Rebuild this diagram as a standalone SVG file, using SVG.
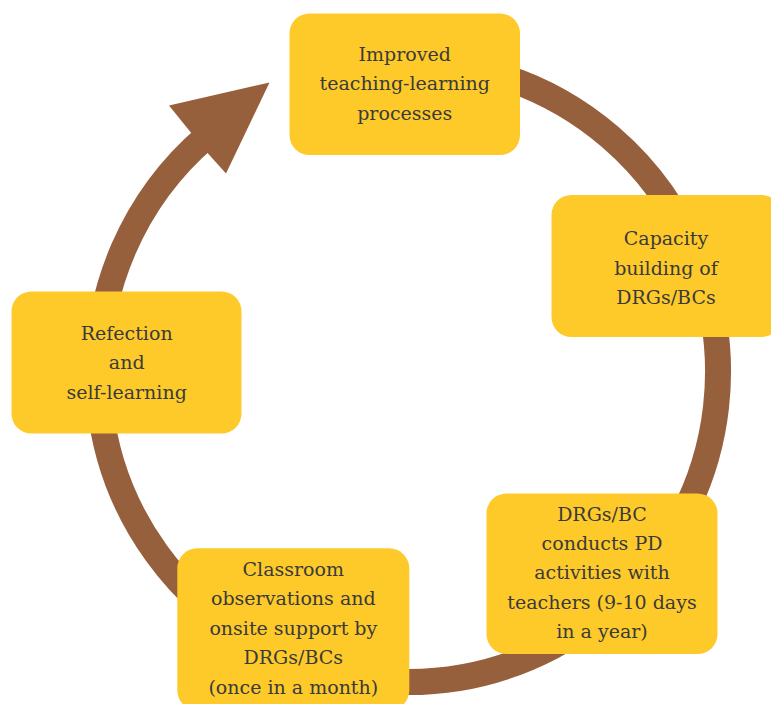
<svg xmlns="http://www.w3.org/2000/svg" width="771" height="704" viewBox="0 0 771 704">
<style>
.ring{fill:none;stroke:#97603D;stroke-width:26}
.head{fill:#97603D}
.box{fill:#FECA29}
.lbl{font-family:"DejaVu Serif","Liberation Serif",serif;font-size:19px;fill:#3a3a3a;text-anchor:middle}
</style>
<rect width="771" height="704" fill="#ffffff"/>
<g id="connectors">
<path class="ring" d="M 327.8 72.6 A 310 310 0 1 1 206.7 136.3"/>
<polygon class="head" points="269.5,82.5 169,105.5 190,131.5 208,153.5 226,173.5"/>
</g>
<g id="node-improved">
<rect class="box" x="289.5" y="13.5" width="230.5" height="141.5" rx="20"/>
<text class="lbl" x="404.75" y="60.5">Improved</text>
<text class="lbl" x="404.75" y="90">teaching-learning</text>
<text class="lbl" x="404.75" y="119.5">processes</text>
</g>
<g id="node-capacity">
<rect class="box" x="551.5" y="195" width="230" height="142" rx="20"/>
<text class="lbl" x="666" y="245">Capacity</text>
<text class="lbl" x="666" y="274.5">building of</text>
<text class="lbl" x="666" y="304">DRGs/BCs</text>
</g>
<g id="node-pd">
<rect class="box" x="486.5" y="493.5" width="231" height="160.5" rx="20"/>
<text class="lbl" x="602" y="520.7">DRGs/BC</text>
<text class="lbl" x="602" y="550">conducts PD</text>
<text class="lbl" x="602" y="579.3">activities with</text>
<text class="lbl" x="602" y="609">teachers (9-10 days</text>
<text class="lbl" x="602" y="638.3">in a year)</text>
</g>
<g id="node-classroom">
<rect class="box" x="177.3" y="548.3" width="232" height="162" rx="20"/>
<text class="lbl" x="293.3" y="575.7">Classroom</text>
<text class="lbl" x="293.3" y="605">observations and</text>
<text class="lbl" x="293.3" y="634.5">onsite support by</text>
<text class="lbl" x="293.3" y="664">DRGs/BCs</text>
<text class="lbl" x="293.3" y="693.5">(once in a month)</text>
</g>
<g id="node-reflection">
<rect class="box" x="11.5" y="291.5" width="230" height="142" rx="20"/>
<text class="lbl" x="126.7" y="339.5">Refection</text>
<text class="lbl" x="126.7" y="369">and</text>
<text class="lbl" x="126.7" y="398.5">self-learning</text>
</g>
</svg>
